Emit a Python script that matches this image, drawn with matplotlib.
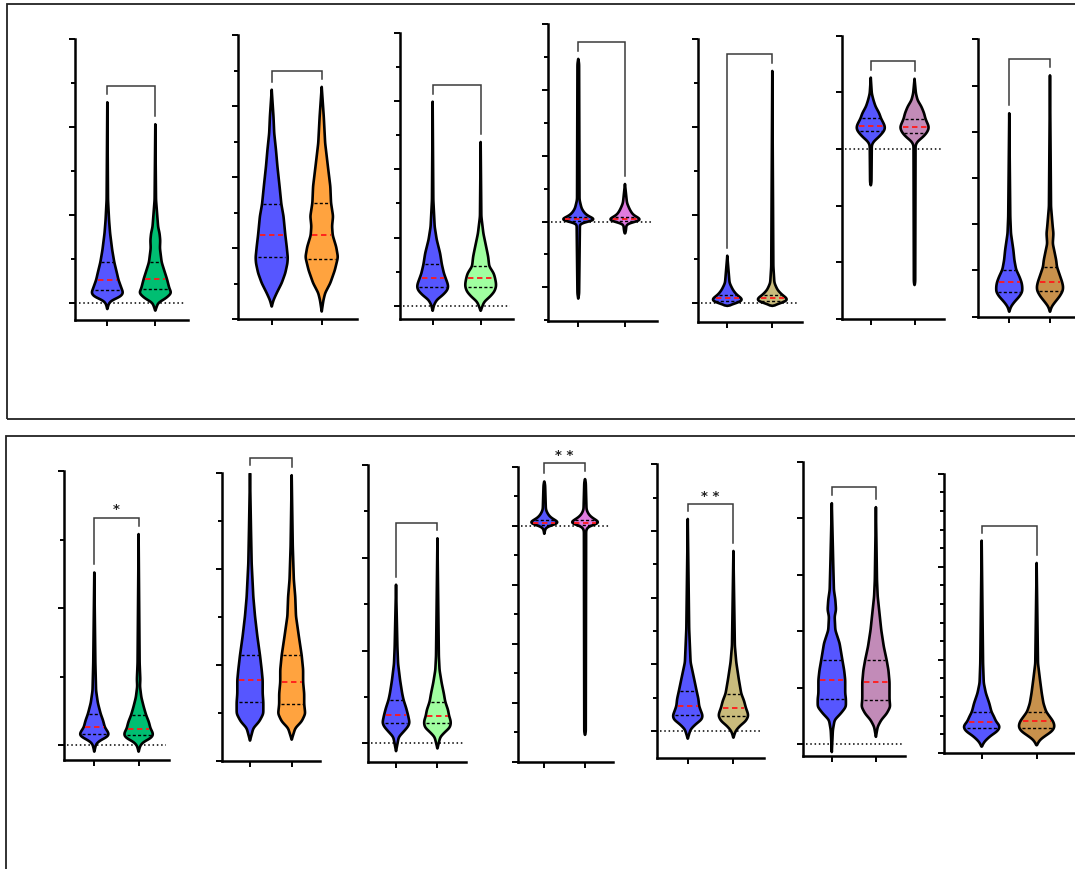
import numpy as np
import matplotlib
matplotlib.use("Agg")
import matplotlib.pyplot as plt
from matplotlib.patches import Rectangle
from matplotlib.ticker import MultipleLocator

# ---------------------------------------------------------------------------
# Violin data: levels (value axis), relative density at each level,
# and quartiles [Q1, median, Q3]. Left violin = control, right = treated.
# ---------------------------------------------------------------------------

# --- top row ---
a1_left_y = [2.28, 1.17, 0.94, 0.79, 0.60, 0.46, 0.33, 0.26, 0.15, 0.11, 0.068, 0.03, 0.0, -0.03, -0.072]
a1_left_d = [0, 2, 5, 8, 14, 20, 28, 32, 42, 46, 38, 14, 5, 3, 0]
a1_left_q = [0.15, 0.26, 0.46]
a1_right_y = [2.03, 1.17, 0.86, 0.79, 0.71, 0.62, 0.46, 0.37, 0.27, 0.16, 0.11, 0.05, 0.0, -0.09]
a1_right_d = [0, 2, 8, 12, 14, 13, 18, 25, 33, 40, 46, 30, 8, 0]
a1_right_q = [0.16, 0.27, 0.46]
a1_bracket = 2.47

a2_left_y = [3.23, 2.85, 2.62, 2.38, 2.15, 1.87, 1.62, 1.45, 1.19, 1.02, 0.87, 0.79, 0.65, 0.51, 0.37, 0.27, 0.18]
a2_left_d = [0, 5, 7, 12, 16, 22, 27, 33, 38, 42, 45, 44, 38, 28, 14, 5, 0]
a2_left_q = [0.87, 1.19, 1.62]
a2_right_y = [3.27, 2.85, 2.48, 2.15, 1.87, 1.64, 1.45, 1.31, 1.18, 1.02, 0.88, 0.85, 0.69, 0.51, 0.37, 0.27, 0.11]
a2_right_d = [0, 6, 10, 18, 25, 27, 33, 30, 32, 42, 47, 46, 38, 25, 10, 5, 0]
a2_right_q = [0.85, 1.18, 1.64]
a2_bracket = 3.50

a3_left_y = [2.99, 1.55, 1.16, 0.97, 0.77, 0.61, 0.48, 0.41, 0.33, 0.28, 0.23, 0.16, 0.09, 0.015, -0.07]
a3_left_d = [0, 2, 6, 12, 22, 27, 33, 38, 44, 46, 43, 30, 12, 4, 0]
a3_left_q = [0.28, 0.41, 0.61]
a3_right_y = [2.40, 1.31, 1.06, 0.82, 0.72, 0.58, 0.48, 0.41, 0.33, 0.28, 0.21, 0.14, 0.06, -0.07]
a3_right_d = [0, 2, 8, 18, 22, 25, 38, 42, 45, 45, 40, 28, 10, 0]
a3_right_q = [0.28, 0.41, 0.58]
a3_bracket = 3.23

a4_left_y = [2.47, 2.40, 0.33, 0.20, 0.13, 0.076, 0.046, 0.025, 0.005, -0.015, -1.10, -1.17]
a4_left_d = [0, 2, 3, 8, 15, 25, 40, 45, 35, 4, 2, 0]
a4_left_q = [0.015, 0.035, 0.07]
a4_right_y = [0.57, 0.28, 0.18, 0.10, 0.05, 0.025, 0.005, -0.025, -0.16, -0.18]
a4_right_d = [0, 5, 12, 20, 35, 45, 35, 4, 2, 0]
a4_right_q = [0.015, 0.035, 0.07]
a4_bracket = 2.73

a5_left_y = [0.54, 0.23, 0.15, 0.095, 0.057, 0.03, 0.008, -0.02, -0.03]
a5_left_d = [0, 6, 15, 25, 38, 42, 30, 5, 0]
a5_left_q = [0.03, 0.064, 0.095]
a5_right_y = [2.64, 0.42, 0.23, 0.15, 0.095, 0.057, 0.03, 0.008, -0.02, -0.03]
a5_right_d = [0, 3, 6, 15, 28, 42, 45, 30, 5, 0]
a5_right_q = [0.03, 0.06, 0.095]
a5_bracket = 2.83

a6_left_y = [1.26, 0.98, 0.86, 0.75, 0.63, 0.54, 0.45, 0.41, 0.36, 0.31, 0.22, 0.13, 0.07, -0.60, -0.64]
a6_left_d = [0, 3, 8, 14, 25, 30, 38, 41, 42, 38, 25, 8, 3, 2, 0]
a6_left_q = [0.31, 0.41, 0.54]
a6_right_y = [1.24, 0.98, 0.86, 0.75, 0.63, 0.53, 0.45, 0.39, 0.335, 0.29, 0.22, 0.13, 0.07, -2.36, -2.40]
a6_right_d = [0, 4, 9, 20, 28, 32, 38, 42, 40, 36, 26, 8, 3, 2, 0]
a6_right_q = [0.29, 0.39, 0.53]
a6_bracket = 1.55

a7_left_y = [2.20, 1.08, 0.90, 0.72, 0.61, 0.51, 0.43, 0.37, 0.325, 0.27, 0.22, 0.16, 0.11, 0.054]
a7_left_d = [0, 3, 5, 12, 15, 20, 30, 36, 38, 38, 30, 15, 5, 0]
a7_left_q = [0.27, 0.37, 0.51]
a7_right_y = [2.61, 1.19, 0.97, 0.90, 0.79, 0.72, 0.61, 0.54, 0.43, 0.375, 0.325, 0.28, 0.22, 0.16, 0.11, 0.054]
a7_right_d = [0, 3, 8, 10, 8, 12, 18, 20, 30, 35, 38, 37, 28, 15, 5, 0]
a7_right_q = [0.28, 0.375, 0.54]
a7_bracket = 2.79

# --- bottom row ---
b1_left_y = [1.26, 0.60, 0.40, 0.31, 0.23, 0.18, 0.13, 0.10, 0.08, 0.063, 0.034, 0.01, -0.046]
b1_left_d = [0, 3, 5, 10, 18, 25, 30, 38, 42, 38, 15, 5, 0]
b1_left_q = [0.08, 0.13, 0.23]
b1_right_y = [1.54, 0.60, 0.48, 0.43, 0.35, 0.28, 0.22, 0.17, 0.12, 0.10, 0.075, 0.05, 0.027, 0.0, -0.046]
b1_right_d = [0, 3, 5, 4, 8, 15, 22, 30, 35, 40, 43, 35, 15, 5, 0]
b1_right_q = [0.075, 0.12, 0.22]
b1_bracket = 1.66

b2_left_y = [3.0, 2.41, 2.06, 1.71, 1.51, 1.30, 1.10, 0.95, 0.84, 0.70, 0.61, 0.49, 0.41, 0.34, 0.21]
b2_left_d = [0, 3, 5, 10, 15, 22, 30, 35, 38, 38, 40, 40, 28, 10, 0]
b2_left_q = [0.61, 0.84, 1.10]
b2_right_y = [2.98, 2.24, 1.89, 1.71, 1.51, 1.30, 1.10, 0.95, 0.82, 0.70, 0.59, 0.49, 0.41, 0.34, 0.22]
b2_right_d = [0, 3, 6, 10, 12, 20, 28, 32, 32, 35, 35, 38, 28, 10, 0]
b2_right_q = [0.59, 0.82, 1.10]
b2_bracket = 3.16

b3_left_y = [1.71, 1.04, 0.86, 0.68, 0.54, 0.47, 0.38, 0.31, 0.26, 0.22, 0.18, 0.126, 0.07, -0.083]
b3_left_d = [0, 4, 6, 12, 18, 22, 30, 35, 38, 40, 35, 22, 8, 0]
b3_left_q = [0.22, 0.31, 0.47]
b3_right_y = [2.21, 0.94, 0.79, 0.65, 0.54, 0.45, 0.36, 0.295, 0.25, 0.216, 0.17, 0.126, 0.07, -0.054]
b3_right_d = [0, 4, 6, 12, 18, 22, 30, 33, 37, 38, 35, 22, 8, 0]
b3_right_q = [0.216, 0.295, 0.45]
b3_bracket = 2.38

b4_left_y = [0.75, 0.70, 0.27, 0.19, 0.13, 0.09, 0.056, 0.028, 0.0, -0.04, -0.136]
b4_left_d = [0, 2, 4, 10, 18, 30, 40, 35, 10, 3, 0]
b4_left_q = [0.02, 0.05, 0.09]
b4_right_y = [0.79, 0.74, 0.27, 0.19, 0.13, 0.09, 0.056, 0.028, 0.0, -0.07, -3.50, -3.54]
b4_right_d = [0, 2, 4, 10, 20, 32, 40, 35, 10, 3, 2, 0]
b4_right_q = [0.02, 0.05, 0.09]
b4_bracket = 1.06

b5_left_y = [3.18, 1.53, 1.03, 0.78, 0.60, 0.48, 0.375, 0.285, 0.235, 0.175, 0.10, 0.025, -0.115]
b5_left_d = [0, 4, 8, 18, 25, 30, 32, 38, 42, 40, 22, 8, 0]
b5_left_q = [0.235, 0.375, 0.60]
b5_right_y = [2.70, 1.28, 1.03, 0.78, 0.56, 0.45, 0.345, 0.275, 0.225, 0.15, 0.075, 0.0, -0.10]
b5_right_d = [0, 4, 8, 15, 22, 30, 35, 40, 42, 35, 18, 6, 0]
b5_right_q = [0.225, 0.345, 0.56]
b5_bracket = 3.40

b6_left_y = [4.27, 3.21, 2.73, 2.56, 2.38, 2.26, 2.02, 1.79, 1.49, 1.31, 1.14, 0.90, 0.80, 0.66, 0.54, 0.43, 0.25, -0.14]
b6_left_d = [0, 4, 6, 10, 12, 8, 10, 22, 30, 35, 38, 38, 40, 40, 25, 8, 3, 0]
b6_left_q = [0.80, 1.14, 1.49]
b6_right_y = [4.20, 2.91, 2.62, 2.32, 2.02, 1.73, 1.49, 1.31, 1.10, 0.90, 0.79, 0.66, 0.54, 0.43, 0.31, 0.13]
b6_right_d = [0, 3, 5, 10, 15, 22, 30, 35, 38, 38, 38, 40, 30, 15, 5, 0]
b6_right_q = [0.79, 1.10, 1.49]
b6_bracket = 4.56

b7_left_y = [2.28, 0.96, 0.75, 0.64, 0.53, 0.44, 0.39, 0.33, 0.30, 0.27, 0.23, 0.18, 0.12, 0.065]
b7_left_d = [0, 4, 6, 12, 22, 28, 35, 42, 50, 52, 45, 25, 8, 0]
b7_left_q = [0.27, 0.33, 0.44]
b7_right_y = [2.04, 0.96, 0.78, 0.64, 0.53, 0.44, 0.38, 0.34, 0.30, 0.27, 0.23, 0.18, 0.14, 0.08]
b7_right_d = [0, 4, 10, 15, 20, 28, 40, 48, 52, 52, 45, 25, 10, 0]
b7_right_q = [0.27, 0.34, 0.44]
b7_bracket = 2.44

# significance marks above brackets
stars = {"b1": "*", "b4": "* *", "b5": "* *"}

# ---------------------------------------------------------------------------
# Colours
# ---------------------------------------------------------------------------
BLUE = "#5656FF"
GREEN = "#00BE72"
ORANGE = "#FFA33F"
LIGHTGREEN = "#A0FFA0"
PINK = "#E07CE0"
KHAKI = "#C9BB7C"
MAUVE = "#C28BB8"
TAN = "#C8914C"

right_colors = {
    "a1": GREEN, "a2": ORANGE, "a3": LIGHTGREEN, "a4": PINK, "a5": KHAKI, "a6": MAUVE, "a7": TAN,
    "b1": GREEN, "b2": ORANGE, "b3": LIGHTGREEN, "b4": PINK, "b5": KHAKI, "b6": MAUVE, "b7": TAN,
}

# ---------------------------------------------------------------------------
# Axes layout (pixels from top-left: left, right, top, bottom), x/y limits,
# tick spacing and whether a dotted zero line is drawn.
# ---------------------------------------------------------------------------
W, H = 1075, 869
layout = {
    "a1": (75.3, 188.0, 39.0, 320.0),
    "a2": (237.7, 356.7, 35.0, 319.3),
    "a3": (400.0, 513.3, 32.7, 319.3),
    "a4": (547.7, 656.7, 24.0, 321.0),
    "a5": (698.3, 802.0, 39.3, 321.7),
    "a6": (841.7, 944.3, 35.7, 319.0),
    "a7": (978.3, 1085.0, 39.3, 316.7),
    "b1": (64.0, 169.3, 471.0, 760.0),
    "b2": (222.3, 320.0, 473.3, 760.7),
    "b3": (368.3, 466.0, 465.0, 762.0),
    "b4": (517.7, 612.7, 466.7, 762.0),
    "b5": (656.7, 764.0, 464.3, 758.3),
    "b6": (802.7, 905.0, 462.0, 756.0),
    "b7": (944.3, 1074.0, 473.7, 752.7),
}
xlims = {
    "a1": (-0.667, 1.681), "a2": (-0.68, 1.70), "a3": (-0.68, 1.68), "a4": (-0.655, 1.68),
    "a5": (-0.644, 1.66), "a6": (-0.664, 1.68), "a7": (-0.76, 1.86),
    "b1": (-0.684, 1.693), "b2": (-0.664, 1.679), "b3": (-0.67, 1.69), "b4": (-0.654, 1.68),
    "b5": (-0.68, 1.67), "b6": (-0.66, 1.66), "b7": (-0.68, 1.68),
}
ylims = {
    "a1": (-0.197, 3.0), "a2": (0.0, 4.0), "a3": (-0.195, 4.0), "a4": (-1.51, 3.0),
    "a5": (-0.21, 3.0), "a6": (-3.0, 2.0), "a7": (0.0, 3.0),
    "b1": (-0.107, 2.0), "b2": (0.0, 3.0), "b3": (-0.2, 3.0), "b4": (-4.0, 1.0),
    "b5": (-0.41, 4.0), "b6": (-0.21, 5.0), "b7": (0.0, 3.0),
}
ticks = {  # (major step, minor step or None)
    "a1": (1, 0.5), "a2": (1, 0.5), "a3": (1, 0.5), "a4": (1, 0.5), "a5": (1, 0.5),
    "a6": (1, None), "a7": (0.5, None),
    "b1": (1, 0.5), "b2": (1, 0.5), "b3": (1, 0.5), "b4": (1, 0.5), "b5": (1, 0.5),
    "b6": (1, None), "b7": (1, 0.2),
}
zero_line = {"a1", "a3", "a4", "a5", "a6", "b1", "b3", "b4", "b5", "b6"}

HALF_WIDTH = 0.32      # max violin half-width in x units
LEG_GAP_PX = 8.0       # gap between bracket leg and violin top
SMOOTH_PX = 1.6        # outline smoothing (gaussian sigma, pixels)

g = globals()


def draw_violin(ax, pos, levels, dens, quart, color, px_per_unit):
    y = np.asarray(levels, float)
    d = np.asarray(dens, float)
    order = np.argsort(y)
    y, d = y[order], d[order]
    w = HALF_WIDTH * d / d.max()
    # sample the outline every half pixel and soften the corners
    n = max(int((y[-1] - y[0]) * px_per_unit * 2), 50)
    yy = np.linspace(y[0], y[-1], n)
    ww = np.interp(yy, y, w)
    sig = SMOOTH_PX * 2
    k = np.arange(-int(4 * sig), int(4 * sig) + 1)
    kern = np.exp(-0.5 * (k / sig) ** 2)
    kern /= kern.sum()
    ws = np.convolve(np.pad(ww, len(k) // 2), kern, mode="valid")
    ws = np.minimum(np.maximum(ws, 0), ww.max())
    ws *= ww.max() / ws.max()
    ws[0] = ws[-1] = 0
    xs = np.concatenate([pos - ws, (pos + ws)[::-1]])
    ys = np.concatenate([yy, yy[::-1]])
    ax.fill(xs, ys, facecolor=color, edgecolor="black", lw=1.9,
            joinstyle="round", zorder=3)
    for i, qv in enumerate(quart):
        hw = np.interp(qv, yy, ws) * 0.86
        if i == 1:
            ax.plot([pos - hw, pos + hw], [qv, qv], color="#FF1A1A", lw=1.3,
                    ls=(0, (3.0, 2.0)), zorder=4)
        else:
            ax.plot([pos - hw, pos + hw], [qv, qv], color="black", lw=1.0,
                    ls=(0, (2.2, 1.6)), zorder=4)
    return y[-1]


fig = plt.figure(figsize=(W / 100, H / 100), dpi=100)

# framing boxes around the two rows
fig.add_artist(Rectangle((7 / W, 1 - 419 / H), 1.2, (419 - 4) / H,
                         transform=fig.transFigure, fill=False,
                         edgecolor="#222222", lw=1.3))
fig.add_artist(Rectangle((6 / W, -0.2), 1.2, 0.2 + (1 - 436 / H),
                         transform=fig.transFigure, fill=False,
                         edgecolor="#222222", lw=1.3))

for key in ["a1", "a2", "a3", "a4", "a5", "a6", "a7",
            "b1", "b2", "b3", "b4", "b5", "b6", "b7"]:
    l, r, t, b = layout[key]
    ax = fig.add_axes([l / W, 1 - b / H, (r - l) / W, (b - t) / H])
    ax.set_facecolor("none")
    ax.set_xlim(*xlims[key])
    ax.set_ylim(*ylims[key])
    for s in ("top", "right"):
        ax.spines[s].set_visible(False)
    for s in ("left", "bottom"):
        ax.spines[s].set_linewidth(1.8)
    ax.set_xticks([0, 1])
    ax.set_xticklabels([])
    major, minor = ticks[key]
    ax.yaxis.set_major_locator(MultipleLocator(major))
    if minor:
        ax.yaxis.set_minor_locator(MultipleLocator(minor))
    ax.tick_params(axis="y", which="major", direction="out", length=4.5,
                   width=1.4, labelleft=False)
    ax.tick_params(axis="y", which="minor", direction="out", length=3.0,
                   width=1.4)
    ax.tick_params(axis="x", which="major", direction="out", length=4.5,
                   width=1.4, labelbottom=False)

    if key in zero_line:
        ax.axhline(0, xmin=0.03, xmax=0.97, color="black", lw=1.1,
                   ls=(0, (1.0, 1.8)), zorder=2)

    px_per_unit = (b - t) / (ylims[key][1] - ylims[key][0])
    top_l = draw_violin(ax, 0, g[key + "_left_y"], g[key + "_left_d"],
                        g[key + "_left_q"], BLUE, px_per_unit)
    top_r = draw_violin(ax, 1, g[key + "_right_y"], g[key + "_right_d"],
                        g[key + "_right_q"], right_colors[key], px_per_unit)

    # comparison bracket
    gap = LEG_GAP_PX / px_per_unit
    yb = g[key + "_bracket"]
    ax.plot([0, 0, 1, 1], [top_l + gap, yb, yb, top_r + gap],
            color="#3a3a3a", lw=1.1, clip_on=False, zorder=5,
            solid_joinstyle="miter")
    if key in stars:
        ax.annotate(stars[key], xy=(0.5, yb), xytext=(0, 1.0),
                    textcoords="offset points", ha="center", va="bottom",
                    fontsize=9.5, fontweight="bold", color="#222222",
                    annotation_clip=False)

fig.savefig("out.png", dpi=100)
